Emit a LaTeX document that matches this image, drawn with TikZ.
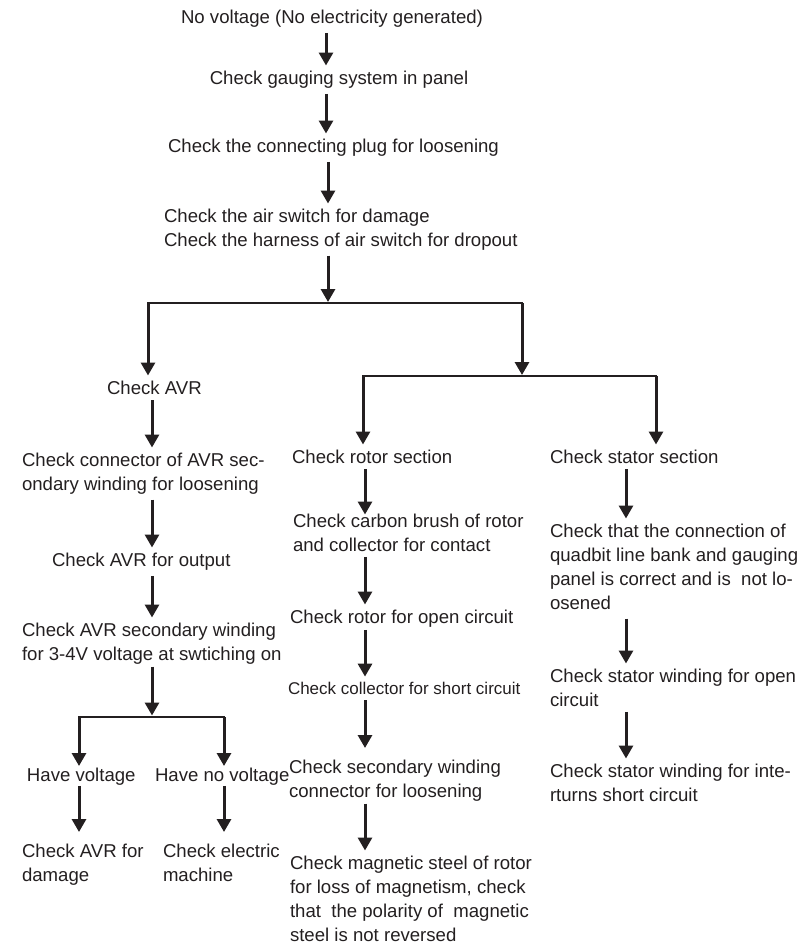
\documentclass[tikz,border=0pt]{standalone}
\usepackage{fontspec}
\setmainfont{Liberation Sans}
\usetikzlibrary{arrows.meta, positioning}
\definecolor{ink}{HTML}{231F20}

\begin{document}
\begin{tikzpicture}[
    x=1pt, y=-1pt,
    font=\fontsize{18.6}{23.8}\selectfont,
    % Estilos
    stepnode/.style={anchor=north west, align=left, inner sep=0pt, outer sep=0pt, text=ink},
    midnode/.style={stepnode, anchor=north, align=center},
    flow/.style={-{Triangle[width=14pt, length=13pt]}, line width=3pt, draw=ink, shorten <=5pt, shorten >=6pt},
    branch/.style={line width=2.8pt, draw=ink, line cap=rect}
]
\useasboundingbox (0,0) rectangle (811,948);

% -------------------------
% TRONCO PRINCIPAL
% -------------------------
\node[midnode] (novolt) at (332,10.5) {No voltage (No electricity generated)};
\node[midnode] (gauge) at (339,71.5) {Check gauging system in panel};
\node[stepnode] (plug) at (168,139.5) {Check the connecting plug for loosening};
\node[stepnode] (airsw) at (164,209.5) {Check the air switch for damage\\Check the harness of air switch for dropout};

\coordinate (cmain) at (326,0);
\coordinate (split) at (328,302);
\coordinate (brL) at (148,303);
\coordinate (brR) at (522,303);

\draw[flow] (novolt.south -| cmain) -- (gauge.north -| cmain);
\draw[flow] (gauge.south -| cmain) -- (plug.north -| cmain);
\draw[flow] (plug.south -| split) -- (airsw.north -| split);
\draw[flow, shorten >=0pt] (airsw.south -| split) -- (split);
\draw[branch] (brL) -- (brR);

% -------------------------
% RAMA AVR (Izquierda)
% -------------------------
\node[stepnode] (avr) at (107,381.5) {Check AVR};
\node[stepnode] (avrcon) at (22,453.5) {Check connector of AVR sec-\\ondary winding for loosening};
\node[stepnode] (avrout) at (52,553.5) {Check AVR for output};
\node[stepnode] (avrsec) at (22,623.5) {Check AVR secondary winding\\for 3-4V voltage at swtiching on};
\node[stepnode] (haveV) at (27,768.5) {Have voltage};
\node[stepnode] (noV) at (155,768.5) {Have no voltage};
\node[stepnode] (avrdmg) at (22,844.5) {Check AVR for\\damage};
\node[stepnode] (machine) at (163,844.5) {Check electric\\machine};

\coordinate (cavr) at (152,0);
\coordinate (sub) at (152,715.5);
\coordinate (subL) at (79,717);
\coordinate (subR) at (224,717);

\draw[flow, shorten <=0pt] (brL) -- (avr.north -| brL);
\draw[flow] (avr.south -| cavr) -- (avrcon.north -| cavr);
\draw[flow] (avrcon.south -| cavr) -- (avrout.north -| cavr);
\draw[flow] (avrout.south -| cavr) -- (avrsec.north -| cavr);
\draw[flow, shorten <=2pt, shorten >=0pt] (avrsec.south -| cavr) -- (sub);
\draw[branch] (subL) -- (subR);
\draw[flow, shorten <=0pt, shorten >=2.5pt] (subL) -- (haveV.north -| subL);
\draw[flow, shorten <=0pt, shorten >=2.5pt] (subR) -- (noV.north -| subR);
\draw[flow, shorten <=0pt, shorten >=12.5pt] (haveV.south -| subL) -- (avrdmg.north -| subL);
\draw[flow, shorten <=0pt, shorten >=12.5pt] (noV.south -| subR) -- (machine.north -| subR);

% -------------------------
% RAMA ROTOR Y ESTATOR
% -------------------------
\coordinate (split2) at (522,375);
\coordinate (brML) at (363,376);
\coordinate (brMR) at (656,376);

\draw[flow, shorten <=0pt, shorten >=0pt] (brR) -- (split2);
\draw[branch] (brML) -- (brMR);

% Rotor (centro)
\node[stepnode] (rotor) at (292,450.5) {Check rotor section};
\node[stepnode] (brush) at (293,514.5) {Check carbon brush of rotor\\and collector for contact};
\node[stepnode] (rotopen) at (290,610.5) {Check rotor for open circuit};
\node[stepnode, font=\fontsize{17}{21}\selectfont] (collect) at (288,682.6) {Check collector for short circuit};
\node[stepnode] (seccon) at (289,760.5) {Check secondary winding\\connector for loosening};
\node[stepnode] (magnet) at (290,856.5) {Check magnetic steel of rotor\\for loss of magnetism, check\\that~ the polarity of~ magnetic\\steel is not reversed};

\coordinate (crot) at (365,0);
\draw[flow, shorten <=0pt] (brML) -- (rotor.north -| brML);
\draw[flow, shorten >=0pt] (rotor.south -| crot) -- (brush.north -| crot);
\draw[flow] (brush.south -| crot) -- (rotopen.north -| crot);
\draw[flow, shorten <=2pt] (rotopen.south -| crot) -- (collect.north -| crot);
\draw[flow, shorten >=12.5pt] (collect.south -| crot) -- (seccon.north -| crot);
\draw[flow, shorten <=2pt] (seccon.south -| crot) -- (magnet.north -| crot);

% Estator (derecha)
\node[stepnode] (stator) at (550,450.5) {Check stator section};
\node[stepnode] (quad) at (550,524.5) {Check that the connection of\\quadbit line bank and gauging\\panel is correct and is~ not lo-\\osened};
\node[stepnode] (statopen) at (550,669.5) {Check stator winding for open\\circuit};
\node[stepnode] (statshort) at (550,764.5) {Check stator winding for inte-\\rturns short circuit};

\coordinate (csta) at (626,0);
\draw[flow, shorten <=0pt] (brMR) -- (stator.north -| brMR);
\draw[flow] (stator.south -| csta) -- (quad.north -| csta);
\draw[flow, shorten <=9pt] (quad.south -| csta) -- (statopen.north -| csta);
\draw[flow] (statopen.south -| csta) -- (statshort.north -| csta);

\end{tikzpicture}
\end{document}
